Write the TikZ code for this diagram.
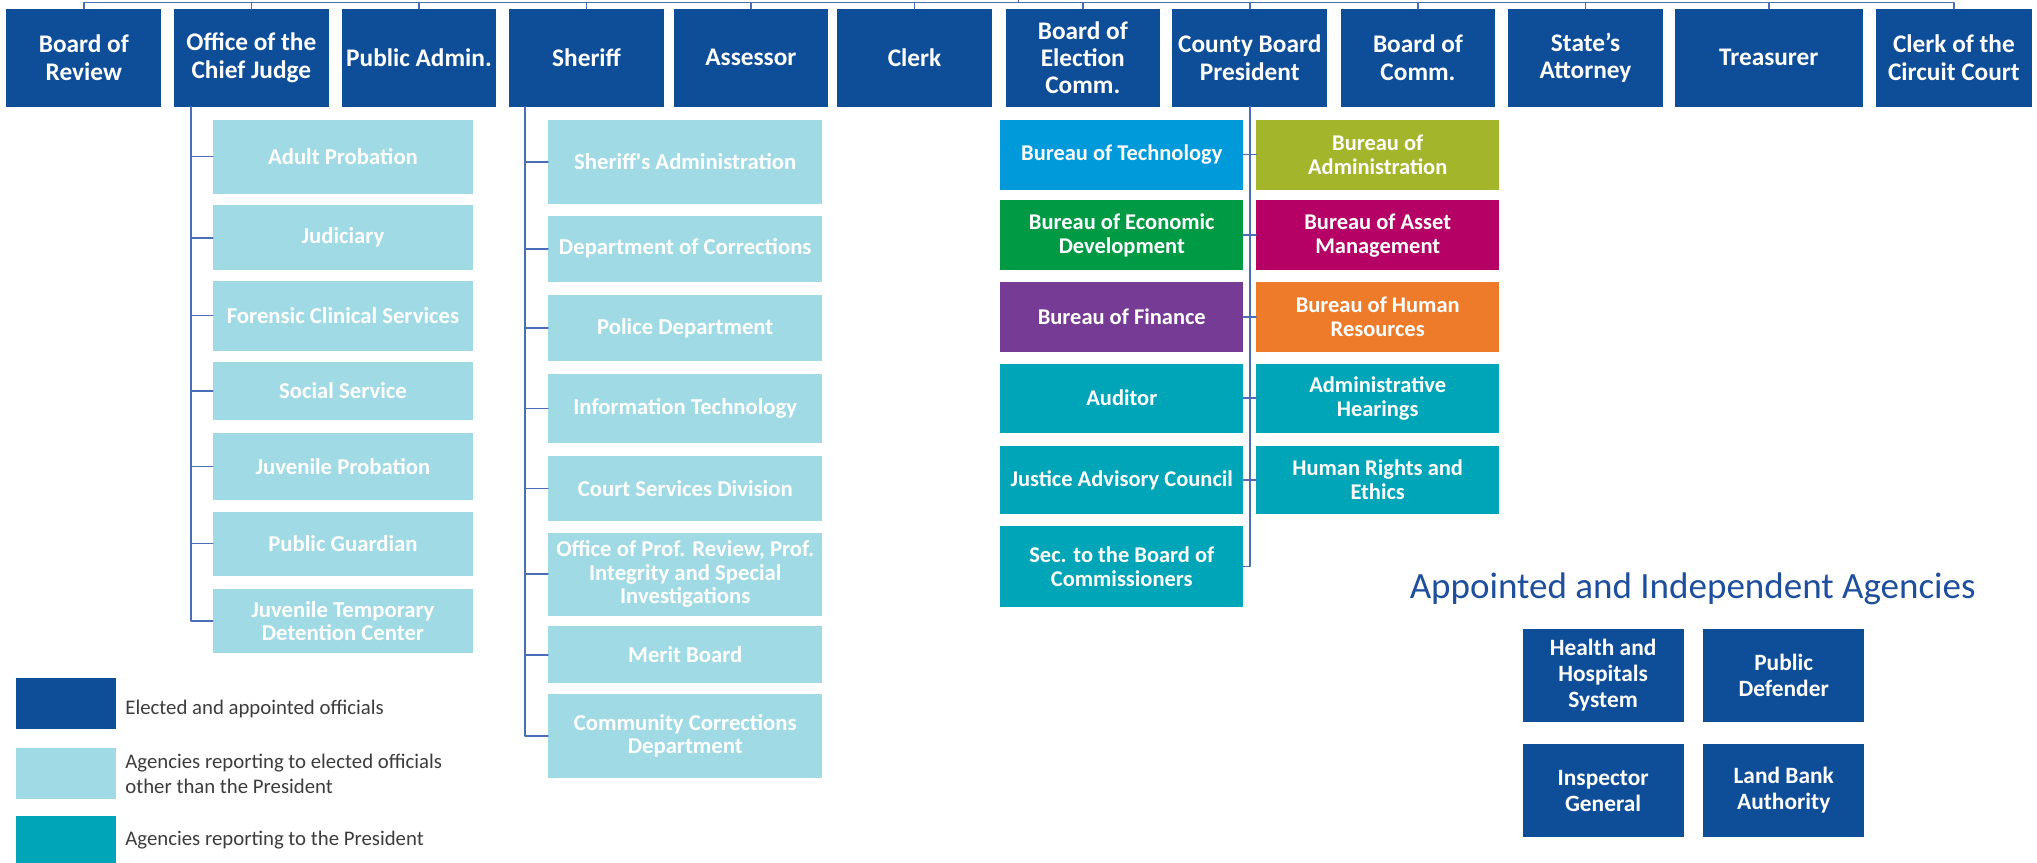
\documentclass[tikz,border=0pt]{standalone}
\usepackage{fontspec}
\setmainfont{Carlito}
\usepackage{tikz}
\usetikzlibrary{positioning}

\definecolor{officialblue}{HTML}{0E4D97}
\definecolor{agencylight}{HTML}{A0DAE4}
\definecolor{presteal}{HTML}{00A5B8}
\definecolor{techblue}{HTML}{0099D9}
\definecolor{econgreen}{HTML}{009A44}
\definecolor{finpurple}{HTML}{763B94}
\definecolor{adminolive}{HTML}{A3B52A}
\definecolor{assetmagenta}{HTML}{B50065}
\definecolor{hrorange}{HTML}{ED7B2A}
\definecolor{linkblue}{HTML}{4A6DB8}
\definecolor{titleblue}{HTML}{1E4F9C}
\definecolor{legendgray}{HTML}{3C3C3C}

\begin{document}
\begin{tikzpicture}[
    x=1pt,
    y=-1pt,
    line cap=round,
    line join=round,
    official/.style={
        fill=officialblue,
        text=white,
        font=\bfseries\fontsize{19.5}{21}\selectfont,
        align=center,
        minimum width=119pt,
        minimum height=75pt,
        inner sep=0pt
    },
    agency/.style={
        fill=agencylight,
        text=white,
        font=\bfseries\fontsize{17.5}{18}\selectfont,
        align=center,
        inner sep=0pt
    },
    bureau/.style={
        text=white,
        font=\bfseries\fontsize{17.3}{18.5}\selectfont,
        align=center,
        minimum width=187pt,
        inner sep=0pt
    },
    independent/.style={
        fill=officialblue,
        text=white,
        font=\bfseries\fontsize{18}{20}\selectfont,
        align=center,
        minimum width=124pt,
        minimum height=72pt,
        inner sep=0pt
    },
    swatch/.style={
        minimum width=77pt,
        minimum height=39pt,
        inner sep=0pt
    },
    legendtext/.style={
        anchor=west,
        text=legendgray,
        align=left,
        font=\fontsize{16}{19}\selectfont
    },
    conn/.style={
        draw=linkblue,
        line width=1.2pt
    }
]

\useasboundingbox (0,0) rectangle (1568,664);

% Elected and appointed officials
\node[official] (bor) at (64.5,44.5)
    {Board of\\Review};
\node[official] (ocj) at (193.5,44.5)
    {Office of the\\Chief Judge};
\node[official] (padm) at (322.5,44.5)
    {Public Admin.};
\node[official] (sheriff) at (451.5,44.5)
    {Sheriff};
\node[official] (assessor) at (578,44.5)
    {Assessor};
\node[official] (clerk) at (704,44.5)
    {Clerk};
\node[official] (boec) at (833.5,44.5)
    {Board of\\Election\\Comm.};
\node[official] (cbp) at (962,44.5)
    {County Board\\President};
\node[official] (boc) at (1091.5,44.5)
    {Board of\\Comm.};
\node[official] (sa) at (1220.5,44.5)
    {State’s\\Attorney};
\node[official, minimum width=145pt] (treasurer) at (1361.5,44.5)
    {Treasurer};
\node[official, minimum width=120pt] (cocc) at (1504,44.5)
    {Clerk of the\\Circuit Court};

% Bar over the officials
\coordinate (apex) at (784,-4);
\coordinate (bar) at (784,2);

\draw[conn] (apex) -- (bar);
\draw[conn]
    (bar) -| (bor.north)
    (bar) -| (ocj.north)
    (bar) -| (padm.north)
    (bar) -| (sheriff.north)
    (bar) -| (assessor.north)
    (bar) -| (clerk.north)
    (bar) -| (boec.north)
    (bar) -| (cbp.north)
    (bar) -| (boc.north)
    (bar) -| (sa.north)
    (bar) -| (treasurer.north)
    (bar) -| (cocc.north);

% Office of the Chief Judge
\node[agency, minimum width=200pt, minimum height=57pt] (adultprob) at (264,120.5)
    {Adult Probation};
\node[agency, minimum width=200pt, minimum height=50pt] (judiciary) at (264,183)
    {Judiciary};
\node[agency, minimum width=200pt, minimum height=54pt] (forensic) at (264,243)
    {Forensic Clinical Services};
\node[agency, minimum width=200pt, minimum height=44pt] (social) at (264,301)
    {Social Service};
\node[agency, minimum width=200pt, minimum height=52pt] (juvprob) at (264,359)
    {Juvenile Probation};
\node[agency, minimum width=200pt, minimum height=49pt] (guardian) at (264,418.5)
    {Public Guardian};
\node[agency, minimum width=200pt, minimum height=50pt] (juvdet) at (264,478)
    {Juvenile Temporary\\Detention Center};

\coordinate (ocjtrunk) at (147,82);

\draw[conn]
    (ocjtrunk) |- (adultprob.west)
    (ocjtrunk) |- (judiciary.west)
    (ocjtrunk) |- (forensic.west)
    (ocjtrunk) |- (social.west)
    (ocjtrunk) |- (juvprob.west)
    (ocjtrunk) |- (guardian.west)
    (ocjtrunk) |- (juvdet.west);

% Sheriff
\node[agency, minimum width=211pt, minimum height=65pt] (shadmin) at (527.5,124.5)
    {Sheriff{\textquotesingle}s Administration};
\node[agency, minimum width=211pt, minimum height=51pt] (corrections) at (527.5,191.5)
    {Department of Corrections};
\node[agency, minimum width=211pt, minimum height=51pt] (police) at (527.5,252.5)
    {Police Department};
\node[agency, minimum width=211pt, minimum height=53pt] (infotech) at (527.5,314.5)
    {Information Technology};
\node[agency, minimum width=211pt, minimum height=50pt] (courtserv) at (527.5,376)
    {Court Services Division};
\node[agency, minimum width=211pt, minimum height=64pt] (profreview) at (527.5,442)
    {Office of Prof. Review, Prof.\\Integrity and Special\\Investigations};
\node[agency, minimum width=211pt, minimum height=44pt] (merit) at (527.5,504)
    {Merit Board};
\node[agency, minimum width=211pt, minimum height=65pt] (commcorr) at (527.5,566.5)
    {Community Corrections\\Department};

\coordinate (shtrunk) at (404,82);

\draw[conn]
    (shtrunk) |- (shadmin.west)
    (shtrunk) |- (corrections.west)
    (shtrunk) |- (police.west)
    (shtrunk) |- (infotech.west)
    (shtrunk) |- (courtserv.west)
    (shtrunk) |- (profreview.west)
    (shtrunk) |- (merit.west)
    (shtrunk) |- (commcorr.west);

% County Board President
\node[bureau, fill=techblue, minimum height=54pt] (tech) at (863.5,119)
    {Bureau of Technology};
\node[bureau, fill=econgreen, minimum height=54pt] (econ) at (863.5,181)
    {Bureau of Economic\\Development};
\node[bureau, fill=finpurple, minimum height=54pt] (finance) at (863.5,244)
    {Bureau of Finance};
\node[bureau, fill=presteal, minimum height=53pt] (auditor) at (863.5,306.5)
    {Auditor};
\node[bureau, fill=presteal, minimum height=53pt] (justice) at (863.5,369.5)
    {Justice Advisory Council};
\node[bureau, fill=presteal, minimum height=62pt] (secboard) at (863.5,436)
    {Sec. to the Board of\\Commissioners};

\node[bureau, fill=adminolive, minimum height=54pt] (admin) at (1060.5,119)
    {Bureau of\\Administration};
\node[bureau, fill=assetmagenta, minimum height=54pt] (asset) at (1060.5,181)
    {Bureau of Asset\\Management};
\node[bureau, fill=hrorange, minimum height=54pt] (hr) at (1060.5,244)
    {Bureau of Human\\Resources};
\node[bureau, fill=presteal, minimum height=53pt] (hearings) at (1060.5,306.5)
    {Administrative\\Hearings};
\node[bureau, fill=presteal, minimum height=53pt] (rights) at (1060.5,369.5)
    {Human Rights and\\Ethics};

\coordinate (cbptrunk) at (962,82);

\draw[conn]
    (cbptrunk) |- (secboard.east)
    (tech.east) -- (admin.west)
    (econ.east) -- (asset.west)
    (finance.east) -- (hr.west)
    (auditor.east) -- (hearings.west)
    (justice.east) -- (rights.west);

% Appointed and Independent Agencies
\node[
    text=titleblue,
    font=\fontsize{28.5}{30}\selectfont
] (indeptitle) at (1303,453)
    {Appointed and Independent Agencies};

\node[independent] (health) at (1234,520)
    {Health and\\Hospitals\\System};
\node[independent] (defender) at (1373,520)
    {Public\\Defender};
\node[independent] (inspector) at (1234,608.5)
    {Inspector\\General};
\node[independent] (landbank) at (1373,608.5)
    {Land Bank\\Authority};

% Legend
\node[swatch, fill=officialblue] (keyofficial) at (50.5,541.5) {};
\node[legendtext] (keyofficialtxt) at (93,546)
    {Elected and appointed officials};

\node[swatch, fill=agencylight] (keyagency) at (50.5,595.5) {};
\node[legendtext] (keyagencytxt) at (93,595.5)
    {Agencies reporting to elected officials\\other than the President};

\node[swatch, fill=presteal, minimum height=36pt] (keypres) at (50.5,646) {};
\node[legendtext] (keyprestxt) at (93,647)
    {Agencies reporting to the President};

\end{tikzpicture}
\end{document}
